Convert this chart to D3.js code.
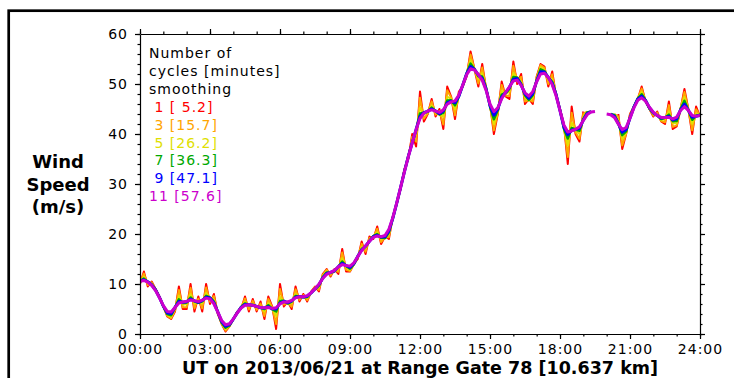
<!DOCTYPE html>
<html>
<head>
<meta charset="utf-8">
<script src="https://cdn.jsdelivr.net/npm/d3@7"></script>
<style>
  html, body { margin: 0; padding: 0; background: #fff; overflow: hidden; }
  svg { display: block; font-family: "DejaVu Sans", sans-serif; }
  .axis path, .axis line { stroke: #000; stroke-width: 1.2; }
  .axis text { font-size: 14px; letter-spacing: 1px; fill: #000; font-family: "DejaVu Sans", sans-serif; }
</style>
</head>
<body>
<svg id="chart" width="734" height="378"></svg>
<script>
// wind speed (m/s), one sample every 10 minutes from 00:00 to 24:00, null = no data
const sampleMinutes = 10;
const windSpeed = [
  10, 12.5, 9.5, 10.5, 9, 7.5,          // 00h
  5.5, 3.5, 3, 4.5, 9.5, 5,             // 01h
  5, 10, 4.5, 7.5, 4.5, 10,             // 02h
  6, 8, 4, 2, 0.5, 1.5,                 // 03h
  3, 4.5, 5, 7.5, 4.5, 7,               // 04h
  4.5, 6.5, 3, 7.5, 5.5, 1,             // 05h
  10, 5.5, 6.5, 5, 9.5, 6.5,            // 06h
  8, 6.5, 8.5, 9.5, 8.5, 12,            // 07h
  13, 11.5, 13, 12, 17, 12.5,           // 08h
  12.5, 14, 15, 18.5, 16, 19.5,         // 09h
  19, 21.5, 18, 19.5, 19, 23.5,         // 10h
  26, 29, 33, 35, 40, 37.5,             // 11h
  48.5, 42.5, 44, 47, 43.5, 45,         // 12h
  41, 49.5, 47.5, 43, 48.5, 49.5,       // 13h
  51.5, 56.5, 53, 49.5, 54, 49,         // 14h
  46, 40, 44, 50.5, 47.5, 47,           // 15h
  54.5, 50, 52, 46, 47, 46,             // 16h
  51.5, 54, 53.5, 49.5, 52.5, 47.5,     // 17h
  45, 42, 34, 45.5, 40, 38.5,           // 18h
  44.5, null, null, null, null, null,   // 19h
  null, null, null, 44, 37, 40,         // 20h
  44, 45.5, 47, 49.5, 46.5, 45,         // 21h
  43.5, 44.5, 42.5, 42, 46.5, 41,       // 22h
  41.5, 45, 49, 45, 40, 45.5,           // 23h
  43.5                                  // 24h
];

// legend: number of smoothing cycles and window length
const cycles = [1, 3, 5, 7, 9, 11];
const windowMinutes = [5.2, 15.7, 26.2, 36.3, 47.1, 57.6];
const lineColors = ['#ff0000', '#ffa500', '#e0e000', '#00a800', '#0000ff', '#cc00cc'];
const lineWidths = [2, 2, 2, 2.5, 3, 3];
const smoothSigma = [0, 0.45, 0.65, 0.85, 1.05, 1.25]; // gaussian width in samples

const hourTicks = [0, 3, 6, 9, 12, 15, 18, 21, 24];
const hourLabels = ['00:00', '03:00', '06:00', '09:00', '12:00', '15:00', '18:00', '21:00', '24:00'];
const speedTicks = [0, 10, 20, 30, 40, 50, 60];

const legendTitle = ['Number of', 'cycles [minutes]', 'smoothing'];
const yTitle = ['Wind', 'Speed', '(m/s)'];
const xTitle = 'UT on 2013/06/21 at Range Gate 78 [10.637 km]';

const svg = d3.select('#chart');
const plotLeft = 140, plotRight = 700, plotTop = 34, plotBottom = 334;

const x = d3.scaleLinear().domain([0, 24]).range([plotLeft, plotRight]);
const y = d3.scaleLinear().domain([0, 60]).range([plotBottom, plotTop]);

// outer frame
svg.append('rect')
  .attr('x', 8.7).attr('y', 10.7)
  .attr('width', 800).attr('height', 500)
  .attr('fill', 'none').attr('stroke', '#000').attr('stroke-width', 2.7);

// smooth each contiguous run, extending it half a window with its edge values
function smoothRuns(values, sigma, pad) {
  const runs = [];
  let start = null;
  values.forEach((v, i) => {
    if (v != null && start === null) start = i;
    const last = i === values.length - 1;
    if (start !== null && (v == null || last)) {
      runs.push([start, v == null ? i - 1 : i]);
      start = null;
    }
  });
  return runs.map(([a, b]) => {
    const at = k => values[Math.max(a, Math.min(b, k))];
    const reach = Math.ceil(sigma * 3);
    return d3.range(a - pad, b + pad + 1).map(j => {
      if (sigma === 0) return { i: j, v: at(j) };
      let sw = 0, s = 0;
      for (let k = j - reach; k <= j + reach; k++) {
        const w = Math.exp(-((k - j) ** 2) / (2 * sigma * sigma));
        sw += w;
        s += w * at(k);
      }
      return { i: j, v: s / sw };
    });
  });
}

svg.append('clipPath').attr('id', 'plot-clip')
  .append('rect')
  .attr('x', plotLeft).attr('y', plotTop)
  .attr('width', plotRight - plotLeft).attr('height', plotBottom - plotTop);

const line = d3.line()
  .x(d => x(d.i * sampleMinutes / 60))
  .y(d => y(d.v));

const plot = svg.append('g').attr('clip-path', 'url(#plot-clip)');

cycles.forEach((c, n) => {
  const pad = Math.round(windowMinutes[n] / 2 / sampleMinutes);
  const runs = smoothRuns(windSpeed, smoothSigma[n], n === 0 ? 0 : pad);
  plot.selectAll(null)
    .data(runs)
    .enter()
    .append('path')
    .attr('d', line)
    .attr('fill', 'none')
    .attr('stroke', lineColors[n])
    .attr('stroke-width', lineWidths[n])
    .attr('stroke-linejoin', 'round');
});

// axes: major ticks, then minor ticks
const xMinor = d3.range(0, 25, 1);
const yMinor = d3.range(0, 61, 2);

const bottomAxis = svg.append('g').attr('class', 'axis')
  .attr('transform', `translate(0,${plotBottom})`)
  .call(d3.axisBottom(x).tickValues(hourTicks).tickFormat((d, i) => hourLabels[i]).tickSize(5).tickSizeOuter(0));
bottomAxis.selectAll('text').attr('y', 20).attr('dy', null);

svg.append('g').attr('class', 'axis')
  .attr('transform', `translate(0,${plotTop})`)
  .call(d3.axisTop(x).tickValues(hourTicks).tickFormat('').tickSize(5).tickSizeOuter(0));

svg.append('g').attr('class', 'axis')
  .attr('transform', `translate(${plotLeft},0)`)
  .call(d3.axisLeft(y).tickValues(speedTicks).tickSize(5).tickPadding(7).tickSizeOuter(0));

svg.append('g').attr('class', 'axis')
  .attr('transform', `translate(${plotRight},0)`)
  .call(d3.axisRight(y).tickValues(speedTicks).tickFormat('').tickSize(5).tickSizeOuter(0));

const minor = [
  [d3.axisBottom(x).tickValues(xMinor), `translate(0,${plotBottom})`],
  [d3.axisTop(x).tickValues(xMinor), `translate(0,${plotTop})`],
  [d3.axisLeft(y).tickValues(yMinor), `translate(${plotLeft},0)`],
  [d3.axisRight(y).tickValues(yMinor), `translate(${plotRight},0)`]
];
minor.forEach(([axis, tr]) => {
  const a = svg.append('g').attr('class', 'axis').attr('transform', tr)
    .call(axis.tickFormat('').tickSize(2.5).tickSizeOuter(0));
  a.select('.domain').remove();
});

// y title
svg.append('g').selectAll('text')
  .data(yTitle)
  .enter()
  .append('text')
  .attr('x', 58)
  .attr('y', (d, i) => 168 + i * 22.5)
  .attr('text-anchor', 'middle')
  .attr('font-size', 18)
  .attr('font-weight', 'bold')
  .text(d => d);

// x title
svg.append('text')
  .attr('x', 420).attr('y', 374)
  .attr('text-anchor', 'middle')
  .attr('font-size', 17.5)
  .attr('font-weight', 'bold')
  .text(xTitle);

// legend
const legendLines = legendTitle.map(t => ({ text: t, color: '#000' }))
  .concat(cycles.map((c, n) => ({
    text: `${String(c).padStart(2, ' ')} [${windowMinutes[n].toFixed(1).padStart(4, ' ')}]`,
    color: lineColors[n]
  })));

svg.append('g').selectAll('text')
  .data(legendLines)
  .enter()
  .append('text')
  .attr('x', 149)
  .attr('y', (d, i) => 58 + i * 17.9)
  .attr('font-size', 14)
  .attr('letter-spacing', '1px')
  .style('white-space', 'pre')
  .attr('fill', d => d.color)
  .text(d => d.text);
</script>
</body>
</html>
